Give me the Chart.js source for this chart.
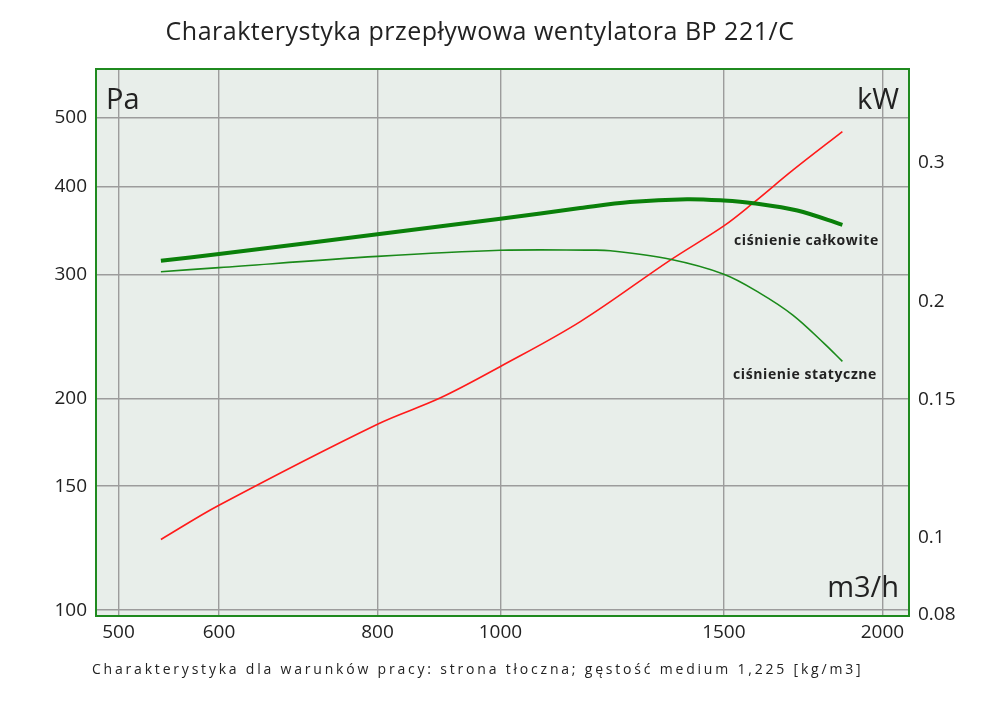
<!DOCTYPE html>
<html>
<head>
<meta charset="utf-8">
<script src="https://cdn.jsdelivr.net/npm/chart.js@4.4.1/dist/chart.umd.min.js"></script>
<style>
  html, body { margin: 0; padding: 0; background: #fff; }
  #wrap { width: 1000px; height: 706px; position: relative; }
</style>
</head>
<body>
<div id="wrap"><canvas id="chart" width="1000" height="706"></canvas></div>
<script>
// dane (przeplyw m3/h, cisnienie Pa, moc kW)
const flowTotal = [540, 600, 800, 1000, 1156, 1265, 1403, 1500, 1582, 1714, 1860];
const pressTotal = [313.6, 320.5, 342, 359.7, 372.5, 380, 383.5, 381.8, 378.5, 369.5, 352.6];

const flowStatic = [540, 600, 800, 1000, 1177, 1221, 1361, 1500, 1600, 1700, 1800, 1860];
const pressStatic = [302.5, 306.6, 318, 324.4, 324.6, 324, 315, 300, 282.3, 262.5, 239.1, 225.6];

const flowPower = [540, 600, 800, 897, 1000, 1156, 1361, 1500, 1582, 1701, 1860];
const power = [0.0996, 0.1101, 0.1396, 0.1508, 0.1653, 0.1885, 0.2257, 0.2495, 0.2668, 0.2939, 0.3288];

const xTicks = [500, 600, 800, 1000, 1500, 2000];
const paTicks = [100, 150, 200, 300, 400, 500];
const kwTicks = [0.08, 0.1, 0.15, 0.2, 0.3];

const tickFont = { family: "'Open Sans', sans-serif", size: 19 };
const textColor = '#222';

function toPoints(xs, ys) {
    return xs.map((x, i) => ({ x: x, y: ys[i] }));
}

// tlo i ramka obszaru wykresu + napisy
const decor = {
    id: 'decor',
    beforeDraw(chart) {
        const { ctx, chartArea: a } = chart;
        ctx.save();
        ctx.fillStyle = '#e8eeea';
        ctx.fillRect(a.left, a.top, a.right - a.left, a.bottom - a.top);
        ctx.restore();
    },
    afterDraw(chart) {
        const { ctx, chartArea: a } = chart;
        ctx.save();
        ctx.strokeStyle = '#1f8a1f';
        ctx.lineWidth = 2;
        ctx.strokeRect(a.left, a.top, a.right - a.left, a.bottom - a.top);

        ctx.fillStyle = textColor;
        ctx.textBaseline = 'middle';
        ctx.font = "25px 'Open Sans', sans-serif";
        ctx.letterSpacing = '0.5px';
        ctx.textAlign = 'center';
        ctx.fillText('Charakterystyka przepływowa wentylatora BP 221/C', 480, 33);
        ctx.letterSpacing = '0px';

        ctx.font = "29px 'Open Sans', sans-serif";
        ctx.textAlign = 'left';
        ctx.fillText('Pa', a.left + 10, 101);
        ctx.textAlign = 'right';
        ctx.fillText('kW', a.right - 10, 101);
        ctx.fillText('m3/h', a.right - 10, 589);

        ctx.font = "bold 14px 'Open Sans', sans-serif";
        ctx.letterSpacing = '0.6px';
        ctx.textAlign = 'left';
        ctx.fillText('ciśnienie całkowite', 734, 241);
        ctx.fillText('ciśnienie statyczne', 733, 375);

        ctx.font = "14px 'Open Sans', sans-serif";
        ctx.letterSpacing = '2.8px';
        ctx.fillText('Charakterystyka dla warunków pracy: strona tłoczna; gęstość medium 1,225 [kg/m3]', 92, 670);
        ctx.restore();
    }
};

new Chart(document.getElementById('chart'), {
    type: 'line',
    data: {
        datasets: [{
            data: toPoints(flowTotal, pressTotal),
            borderColor: '#0a800a',
            borderWidth: 4,
            yAxisID: 'y'
        }, {
            data: toPoints(flowStatic, pressStatic),
            borderColor: '#1a8a1a',
            borderWidth: 1.6,
            yAxisID: 'y'
        }, {
            data: toPoints(flowPower, power),
            borderColor: '#ff1a1a',
            borderWidth: 1.6,
            yAxisID: 'y2'
        }]
    },
    options: {
        responsive: false,
        animation: false,
        layout: { padding: { top: 69, left: 0, right: 0, bottom: 0 } },
        elements: {
            point: { radius: 0 },
            line: { tension: 0.35, fill: false }
        },
        plugins: { legend: { display: false }, tooltip: { enabled: false } },
        scales: {
            x: {
                type: 'logarithmic',
                min: 480,
                max: 2099,
                afterBuildTicks: s => { s.ticks = xTicks.map(v => ({ value: v })); },
                afterFit: s => { s.height = 90; },
                ticks: { color: textColor, font: tickFont, padding: 5, maxRotation: 0, autoSkip: false,
                    callback: v => String(v) },
                grid: { color: '#9c9c9c', lineWidth: 1.4, drawTicks: false },
                border: { display: false }
            },
            y: {
                type: 'logarithmic',
                position: 'left',
                min: 98.1,
                max: 587,
                afterBuildTicks: s => { s.ticks = paTicks.map(v => ({ value: v })); },
                afterFit: s => { s.width = 96; },
                ticks: { color: textColor, font: tickFont, padding: 9, autoSkip: false,
                    callback: v => String(v) },
                grid: { color: '#9c9c9c', lineWidth: 1.4, drawTicks: false },
                border: { display: false }
            },
            y2: {
                type: 'logarithmic',
                position: 'right',
                min: 0.0796,
                max: 0.395,
                afterBuildTicks: s => { s.ticks = kwTicks.map(v => ({ value: v })); },
                afterFit: s => { s.width = 91; },
                ticks: { color: textColor, font: tickFont, padding: 9, autoSkip: false,
                    callback: v => String(v) },
                grid: { display: false, drawTicks: false },
                border: { display: false }
            }
        }
    },
    plugins: [decor]
});
</script>
</body>
</html>
